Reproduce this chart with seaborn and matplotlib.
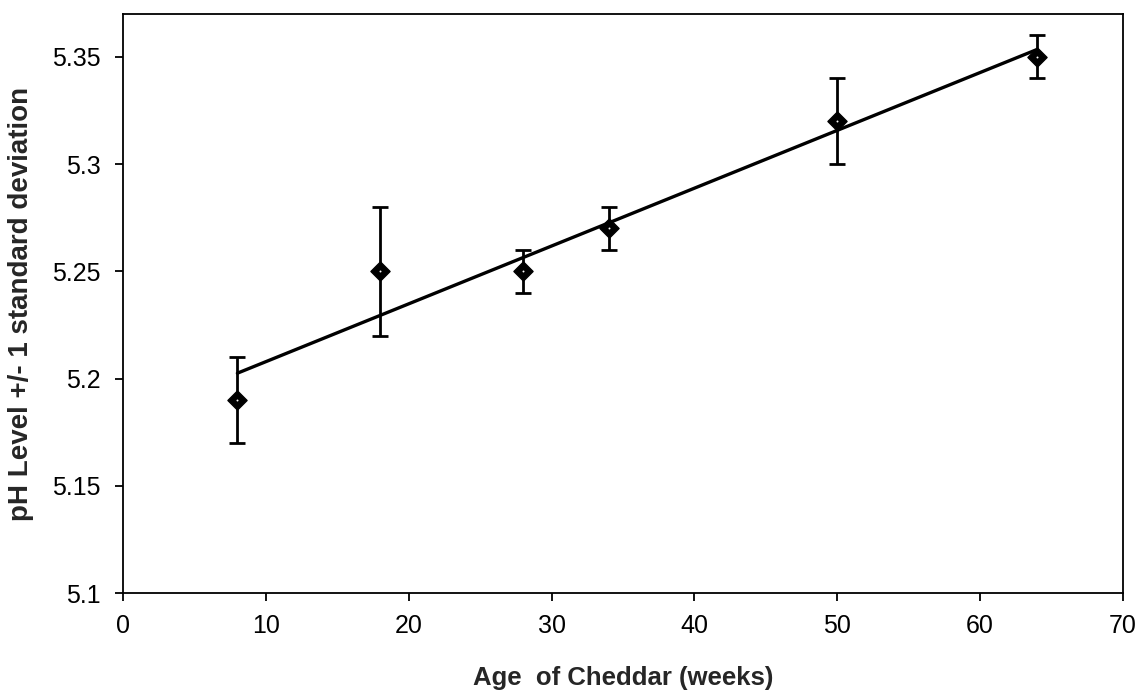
import matplotlib
matplotlib.use("Agg")
import matplotlib.pyplot as plt
import pandas as pd
import seaborn as sns

# Cheddar pH over ageing time
age_weeks = [8, 18, 28, 34, 50, 64]
ph_mean = [5.19, 5.25, 5.25, 5.27, 5.32, 5.35]
ph_sd = [0.02, 0.03, 0.01, 0.01, 0.02, 0.01]

df = pd.DataFrame({"age": age_weeks, "ph": ph_mean, "sd": ph_sd})

sns.set_style("ticks")
plt.rcParams["font.family"] = ["Liberation Sans", "DejaVu Sans"]

fig = plt.figure(figsize=(11.4, 6.94), dpi=100)
ax = fig.add_axes([0.108, 0.1455, 0.877, 0.8345])

# error bars
ax.errorbar(df["age"], df["ph"], yerr=df["sd"], fmt="none", ecolor="black",
            elinewidth=2, capsize=6, capthick=2, zorder=2)

# linear trend line over the data range
sns.regplot(data=df, x="age", y="ph", ci=None, scatter=False, truncate=True,
            line_kws={"color": "black", "linewidth": 2.4}, ax=ax)

# diamond markers
sns.scatterplot(data=df, x="age", y="ph", marker="D", s=95, color="black",
                edgecolor="black", linewidth=1, zorder=3, ax=ax)
sns.scatterplot(data=df, x="age", y="ph", marker="o", s=2, color="white",
                linewidth=0, zorder=4, ax=ax)

ax.set_xlim(0, 70)
ax.set_ylim(5.1, 5.37)
ax.set_xticks(range(0, 71, 10))
ax.set_yticks([5.1, 5.15, 5.2, 5.25, 5.3, 5.35])
ax.set_yticklabels(["5.1", "5.15", "5.2", "5.25", "5.3", "5.35"])

for s in ax.spines.values():
    s.set_visible(True)
    s.set_linewidth(1.3)
    s.set_color("black")

ax.tick_params(axis="both", direction="out", length=6, width=1.3,
               labelsize=18, colors="black")
ax.tick_params(axis="x", pad=9)
ax.tick_params(axis="y", pad=10)

ax.set_xlabel("Age  of Cheddar (weeks)", fontsize=18.5, fontweight="bold",
              labelpad=20)
ax.set_ylabel("pH Level +/- 1 standard deviation", fontsize=20,
              fontweight="bold", labelpad=13)

fig.savefig("out.png", dpi=100)
